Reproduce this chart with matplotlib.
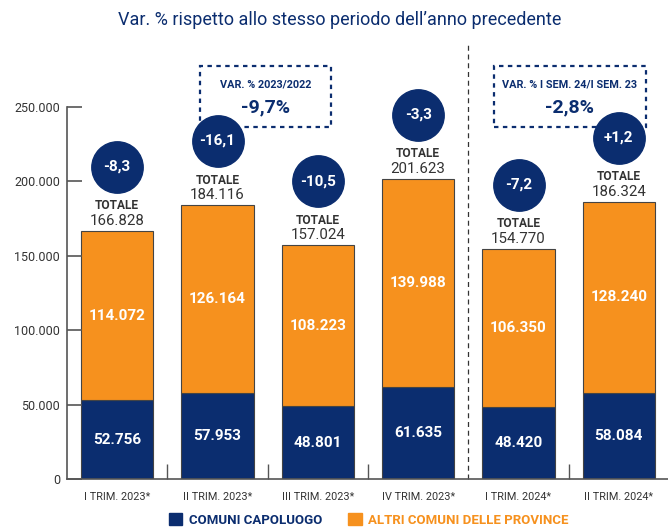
import matplotlib
matplotlib.use('Agg')
from matplotlib import pyplot as plt
from matplotlib import transforms as mtransforms
from matplotlib.patches import Rectangle, Patch

categories = ['I TRIM. 2023*', 'II TRIM. 2023*', 'III TRIM. 2023*',
              'IV TRIM. 2023*', 'I TRIM. 2024*', 'II TRIM. 2024*']
capoluogo = [52756, 57953, 48801, 61635, 48420, 58084]
altri = [114072, 126164, 108223, 139988, 106350, 128240]
totale = [166828, 184116, 157024, 201623, 154770, 186324]
var_pct = ['-8,3', '-16,1', '-10,5', '-3,3', '-7,2', '+1,2']
yticks = [0, 50000, 100000, 150000, 200000, 250000]
ytick_labels = ['0', '50.000', '100.000', '150.000', '200.000', '250.000']

NAVY = '#0b2d6f'
ORANGE = '#f6911e'
GREY = '#333333'

plt.rcParams['font.family'] = ['Roboto', 'DejaVu Sans']


def fmt(v):
    return f'{v:,}'.replace(',', '.')


fig = plt.figure(figsize=(6.68, 5.30), dpi=100)
ax = fig.add_axes([67 / 668, 1 - 479 / 530, 602 / 668, (479 - 107) / 530])

x = range(len(categories))
ax.bar(x, capoluogo, width=0.72, color=NAVY, edgecolor='#444444', linewidth=0.8)
ax.bar(x, altri, bottom=capoluogo, width=0.72, color=ORANGE,
       edgecolor='#444444', linewidth=0.8)

ax.set_xlim(-0.5, 5.5)
ax.set_ylim(0, 250000)

for i in x:
    ax.text(i, capoluogo[i] / 2, fmt(capoluogo[i]), ha='center', va='center',
            color='white', fontsize=11, fontweight='bold')
    ax.text(i, capoluogo[i] + altri[i] / 2, fmt(altri[i]), ha='center',
            va='center', color='white', fontsize=11, fontweight='bold')
    ax.annotate('TOTALE', (i, totale[i]), xytext=(0, 25), textcoords='offset pixels',
                ha='center', va='center', color=GREY, fontsize=8.6,
                fontweight='bold', annotation_clip=False)
    ax.annotate(fmt(totale[i]), (i, totale[i]), xytext=(0, 10),
                textcoords='offset pixels', ha='center', va='center',
                color=GREY, fontsize=10.8, annotation_clip=False)
    # circle with percentage variation
    off = mtransforms.offset_copy(ax.transData, fig=fig, x=0, y=64, units='dots')
    ax.plot([i], [totale[i]], 'o', ms=37, color=NAVY, transform=off, clip_on=False)
    ax.text(i, totale[i], var_pct[i], transform=off, ha='center', va='center',
            color='white', fontsize=11, fontweight='bold', clip_on=False)

# separator between 2023 and 2024
ax.plot([3.5, 3.5], [0, 292000], color=GREY, lw=0.9, ls=(0, (4, 3)), clip_on=False)

ax.spines['top'].set_visible(False)
ax.spines['right'].set_visible(False)
ax.spines['left'].set_color('#555555')
ax.spines['bottom'].set_color('#555555')
ax.spines['left'].set_linewidth(1.2)
ax.spines['bottom'].set_linewidth(1.2)

ax.set_yticks(yticks)
ax.set_yticklabels(ytick_labels)
ax.tick_params(axis='y', direction='in', length=11, color='#555555',
               labelsize=9, labelcolor=GREY, width=1.2, pad=5)
ax.set_xticks(list(x))
ax.set_xticklabels(categories)
ax.tick_params(axis='x', length=0, labelsize=7.8, labelcolor=GREY, pad=9)
ax.set_xticks([0.5, 1.5, 2.5, 4.5], minor=True)
ax.tick_params(axis='x', which='minor', direction='in', length=11,
               color='#555555', width=1.0)

fig.text(340 / 668, 1 - 20 / 530,
         'Var. % rispetto allo stesso periodo dell\u2019anno precedente',
         ha='center', va='center', color=NAVY, fontsize=13)

# summary boxes
for (x0, x1, lab, val) in [(200, 331, 'VAR. % 2023/2022', '-9,7%'),
                           (494, 646, 'VAR. % I SEM. 24/I SEM. 23', '-2,8%')]:
    rect = Rectangle((x0 / 668, 1 - 127 / 530), (x1 - x0) / 668, 61 / 530,
                     transform=fig.transFigure, fill=False, edgecolor=NAVY,
                     lw=1.6, ls=(0, (2, 2)))
    fig.patches.append(rect)
    xc = (x0 + x1) / 2 / 668
    fig.text(xc, 1 - 84 / 530, lab, ha='center', va='center', color=NAVY,
             fontsize=7.8, fontweight='bold')
    fig.text(xc, 1 - 107 / 530, val, ha='center', va='center', color=NAVY,
             fontsize=14, fontweight='bold')

handles = [Patch(color=NAVY), Patch(color=ORANGE)]
fig.legend(handles, ['COMUNI CAPOLUOGO', 'ALTRI COMUNI DELLE PROVINCE'],
           loc='center', bbox_to_anchor=(0.552, 1 - 520 / 530), ncol=2,
           frameon=False, labelcolor=[NAVY, ORANGE],
           prop={'size': 9.5, 'weight': 'bold'}, handlelength=1.0,
           handleheight=1.0, columnspacing=2.0, handletextpad=0.5)

fig.savefig('out.png', dpi=100)
